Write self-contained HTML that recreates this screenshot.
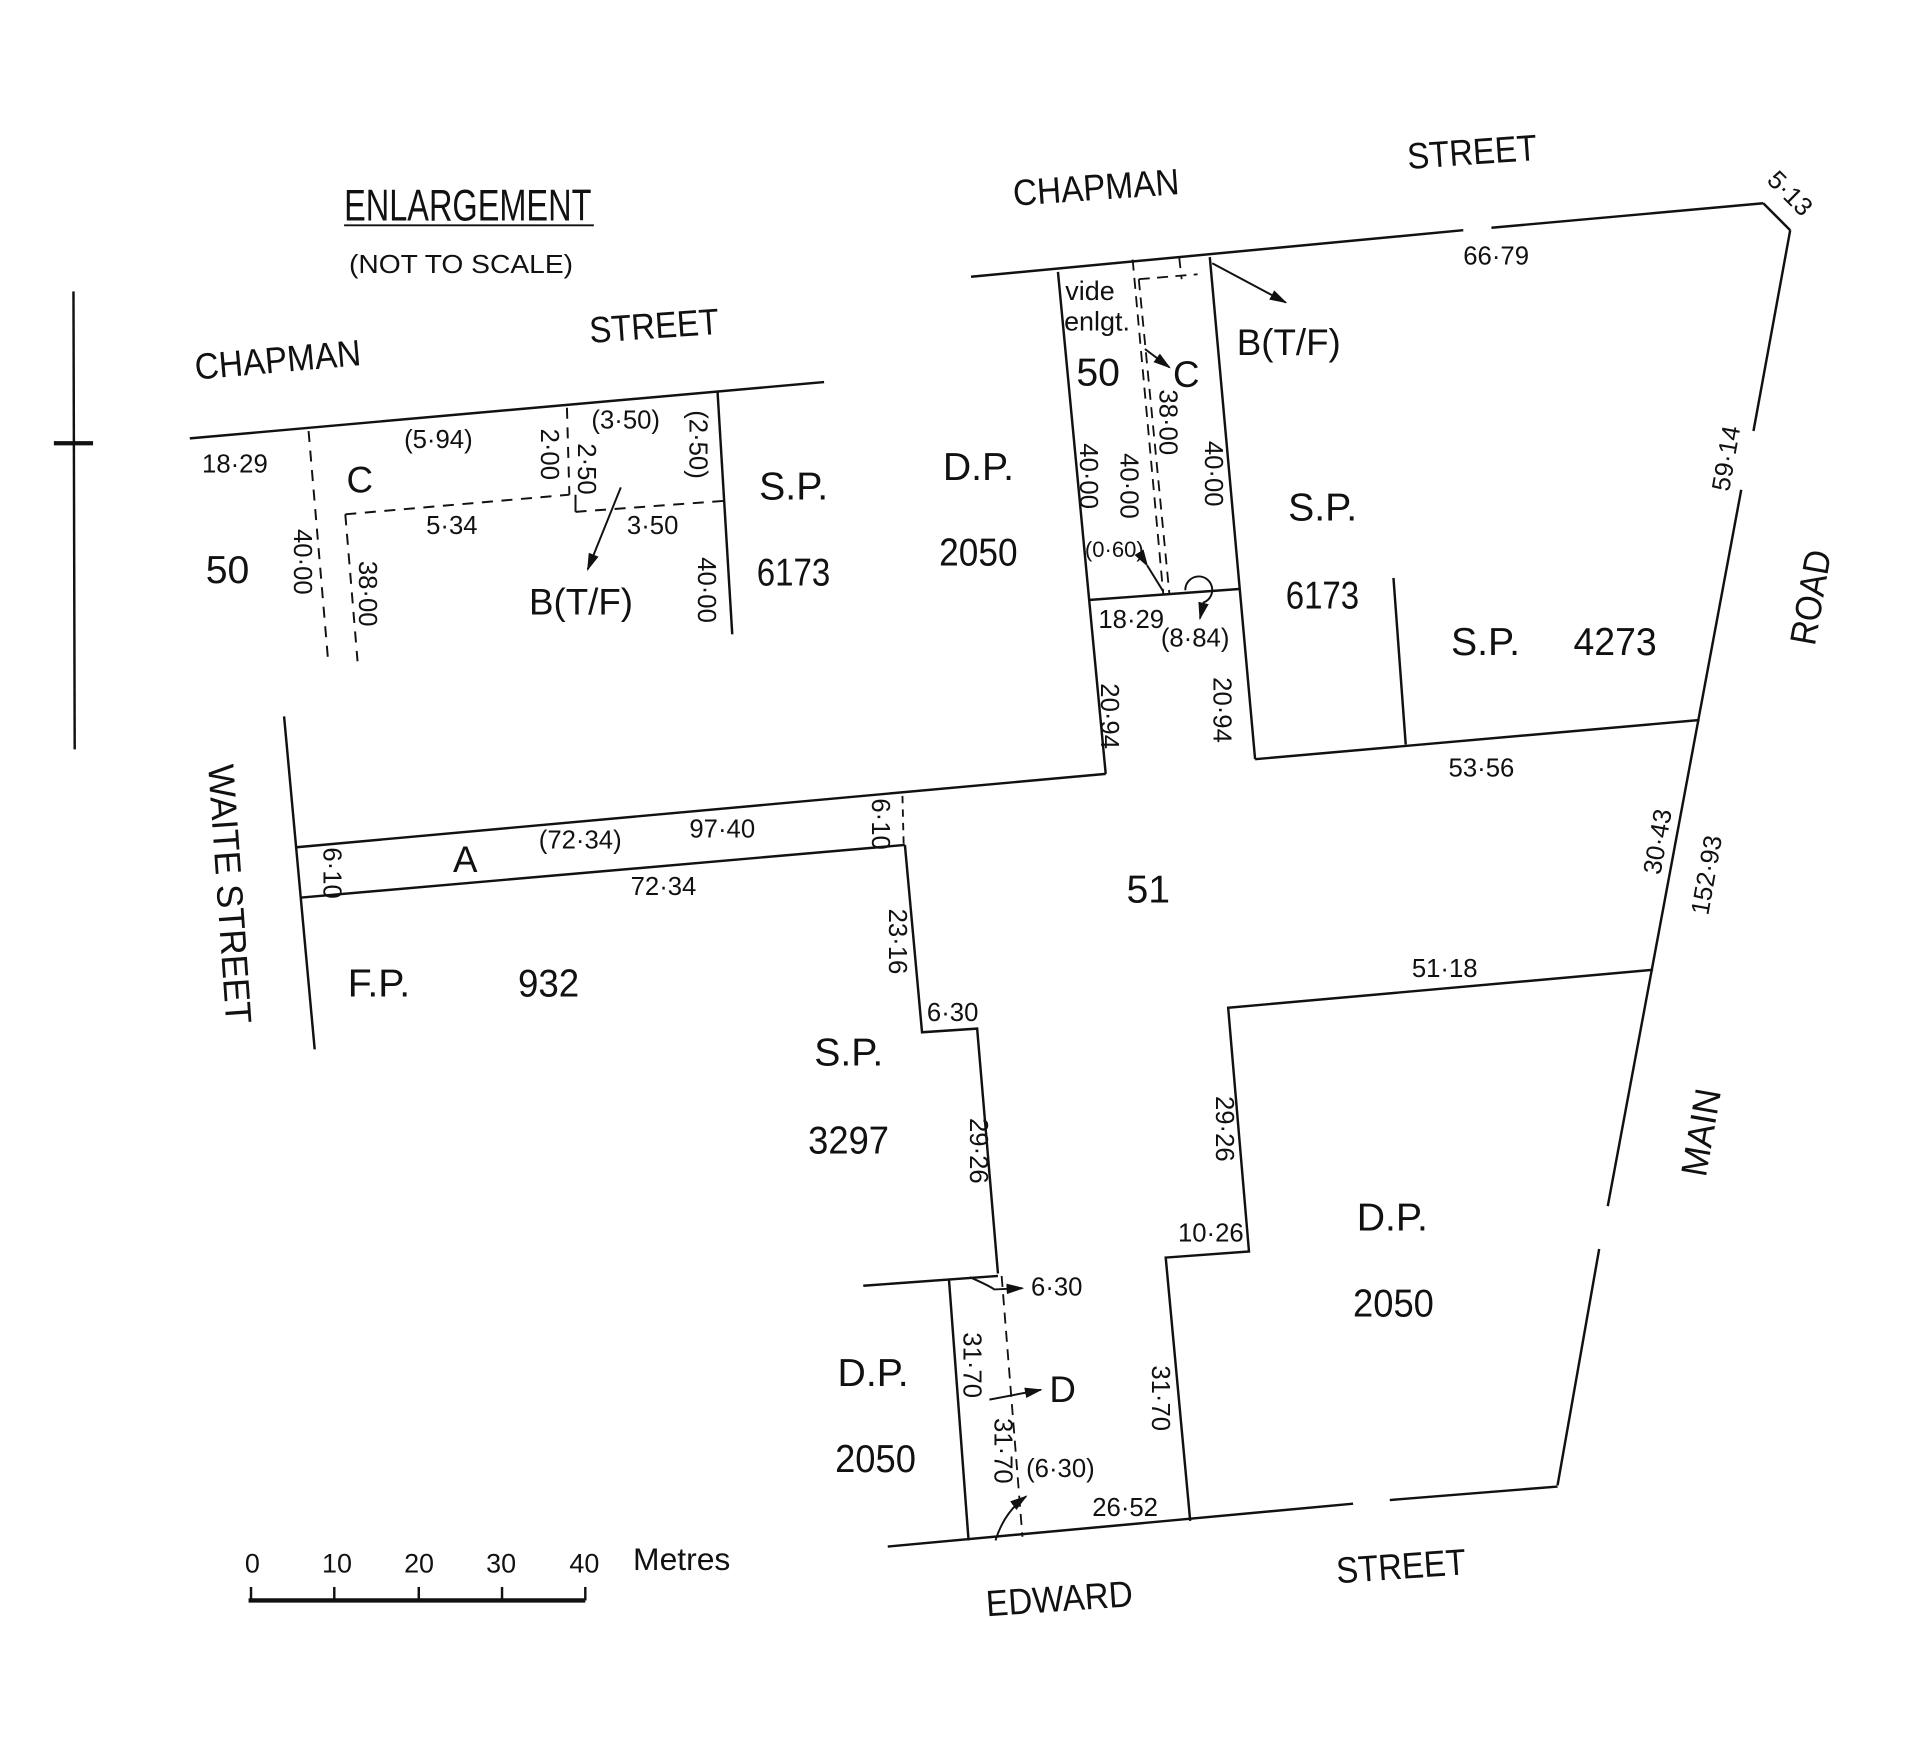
<!DOCTYPE html>
<html><head><meta charset="utf-8"><style>
html,body{margin:0;padding:0;background:#fff;}
svg{display:block;}
text{font-family:"Liberation Sans Narrow","Liberation Sans",sans-serif;fill:#111;}
</style></head><body>
<svg width="1920" height="1748" viewBox="0 0 1568 1427.5" preserveAspectRatio="none" xmlns="http://www.w3.org/2000/svg">
<defs><marker id="ar" viewBox="0 0 10 10" refX="9" refY="5" markerWidth="9" markerHeight="9" orient="auto"><path d="M0,2 L10,5 L0,8 z" fill="#111"/></marker></defs>
<g stroke="#111" stroke-width="2" fill="none">
<line x1="60" y1="238" x2="61" y2="612"/>
<line x1="44" y1="362" x2="76" y2="362" stroke-width="3.5"/>
<line x1="281" y1="184" x2="485" y2="184" stroke-width="1.6"/>
<line x1="155" y1="358" x2="673" y2="312"/>
<line x1="586" y1="320" x2="598" y2="518"/>
<g stroke-dasharray="9,7" stroke-width="1.6">
<line x1="252" y1="352" x2="268" y2="540"/>
<line x1="282" y1="420" x2="292" y2="540"/>
<line x1="282" y1="420" x2="465" y2="404"/>
<line x1="463" y1="333" x2="465" y2="404"/>
<line x1="470" y1="418" x2="592" y2="409"/>
</g>
<line x1="470" y1="404" x2="470" y2="418" stroke-width="1.6"/>
<line x1="507" y1="398" x2="480" y2="465" stroke-width="1.6" marker-end="url(#ar)"/>
<line x1="793" y1="226" x2="1195" y2="188"/>
<line x1="1218" y1="186" x2="1440" y2="166"/>
<line x1="1440" y1="166" x2="1462" y2="188"/>
<line x1="1462" y1="188" x2="1432" y2="352"/>
<line x1="1422" y1="400" x2="1313" y2="985"/>
<line x1="1306" y1="1020" x2="1272" y2="1213"/>
<line x1="725" y1="1263" x2="1105" y2="1228"/>
<line x1="1135" y1="1225" x2="1272" y2="1214"/>
<line x1="864" y1="222" x2="903" y2="632"/>
<line x1="988" y1="210" x2="1025" y2="620"/>
<line x1="889" y1="490" x2="1012" y2="481"/>
<g stroke-dasharray="9,6" stroke-width="1.5">
<line x1="925" y1="212" x2="950" y2="485"/>
<line x1="930" y1="228" x2="955" y2="485"/>
<line x1="930" y1="228" x2="978" y2="224"/>
<line x1="963" y1="210" x2="965" y2="228"/>
</g>
<line x1="990" y1="215" x2="1050" y2="247" stroke-width="1.6" marker-end="url(#ar)"/>
<path d="M935,285 L955,300" stroke-width="1.6" marker-end="url(#ar)"/>
<line x1="937" y1="462" x2="950" y2="483" stroke-width="1.6" marker-start="url(#ar)"/>
<path d="M968,482 A11,11 0 1 1 983,492 L980,505" stroke-width="1.6" marker-end="url(#ar)"/>
<line x1="1025" y1="620" x2="1388" y2="588"/>
<line x1="1138" y1="472" x2="1148" y2="608"/>
<line x1="903" y1="632" x2="241" y2="692"/>
<line x1="246" y1="733" x2="739" y2="690"/>
<line x1="232" y1="585" x2="257" y2="857"/>
<line x1="737" y1="650" x2="738" y2="690" stroke-dasharray="6,5" stroke-width="1.5"/>
<polyline points="739,690 753,843 798,840 815,1040"/>
<line x1="705" y1="1050" x2="815" y2="1042"/>
<line x1="775" y1="1045" x2="791" y2="1258"/>
<line x1="818" y1="1042" x2="835" y2="1255" stroke-dasharray="9,6" stroke-width="1.5"/>
<path d="M792,1043 Q808,1050 812,1053 L835,1052" stroke-width="1.6" marker-end="url(#ar)"/>
<line x1="808" y1="1143" x2="850" y2="1135" stroke-width="1.6" marker-end="url(#ar)"/>
<path d="M813,1258 Q820,1235 838,1222" stroke-width="1.6" marker-end="url(#ar)"/>
<polyline points="1350,792 1003,823 1020,1022 952,1027 972,1242"/>
<line x1="203" y1="1307" x2="478" y2="1307" stroke-width="3.5"/>
<line x1="205" y1="1296" x2="205" y2="1307"/>
<line x1="273" y1="1296" x2="273" y2="1307"/>
<line x1="342" y1="1296" x2="342" y2="1307"/>
<line x1="410" y1="1296" x2="410" y2="1307"/>
<line x1="478" y1="1296" x2="478" y2="1307"/>
</g>
<g font-size="30">
<text x="281" y="180" font-size="36" textLength="202" lengthAdjust="spacingAndGlyphs">ENLARGEMENT</text>
<text x="285" y="223" font-size="21" textLength="183" lengthAdjust="spacingAndGlyphs">(NOT  TO  SCALE)</text>
<text x="160" y="310" transform="rotate(-5 160 310)" textLength="136" lengthAdjust="spacingAndGlyphs">CHAPMAN</text>
<text x="482" y="280" transform="rotate(-4 482 280)" textLength="106" lengthAdjust="spacingAndGlyphs">STREET</text>
<text x="165" y="386" font-size="21">18·29</text>
<text x="283" y="402">C</text>
<text x="330" y="366" font-size="21">(5·94)</text>
<text x="483" y="350" font-size="21">(3·50)</text>
<text x="348" y="436" font-size="21">5·34</text>
<text x="512" y="436" font-size="21">3·50</text>
<text x="432" y="502">B(T/F)</text>
<text x="168" y="476" font-size="32">50</text>
<text x="620" y="408" font-size="32">S.P.</text>
<text x="618" y="478" font-size="32" textLength="60" lengthAdjust="spacingAndGlyphs">6173</text>
<text x="770" y="392" font-size="32">D.P.</text>
<text x="767" y="462" font-size="32" textLength="64" lengthAdjust="spacingAndGlyphs">2050</text>
<g font-size="21">
<text transform="translate(442,350) rotate(90)">2·00</text>
<text transform="translate(472,362) rotate(90)">2·50</text>
<text transform="translate(563,335) rotate(90)">(2·50)</text>
<text transform="translate(240,432) rotate(90)">40·00</text>
<text transform="translate(293,458) rotate(90)">38·00</text>
<text transform="translate(570,455) rotate(90)">40·00</text>
</g>
<text x="828" y="168" transform="rotate(-4 828 168)" textLength="136" lengthAdjust="spacingAndGlyphs">CHAPMAN</text>
<text x="1150" y="138" transform="rotate(-4 1150 138)" textLength="106" lengthAdjust="spacingAndGlyphs">STREET</text>
<text x="1195" y="216" font-size="21">66·79</text>
<text transform="translate(1442,148) rotate(45)" font-size="21">5·13</text>
<text x="870" y="245" font-size="22">vide</text>
<text x="869" y="270" font-size="22">enlgt.</text>
<text x="879" y="315" font-size="32">50</text>
<text x="958" y="316">C</text>
<text x="1010" y="290">B(T/F)</text>
<g font-size="21">
<text transform="translate(947,318) rotate(90)">38·00</text>
<text transform="translate(882,362) rotate(90)">40·00</text>
<text transform="translate(915,370) rotate(90)">40·00</text>
<text transform="translate(984,360) rotate(90)">40·00</text>
<text x="886" y="455" font-size="18">(0·60)</text>
<text x="897" y="513">18·29</text>
<text x="948" y="528">(8·84)</text>
<text transform="translate(899,558) rotate(90)">20·94</text>
<text transform="translate(991,553) rotate(90)">20·94</text>
<text transform="translate(1412,402) rotate(-80)">59·14</text>
<text x="1183" y="634">53·56</text>
<text transform="translate(1356,715) rotate(-80)">30·43</text>
<text transform="translate(1395,748) rotate(-80)">152·93</text>
<text transform="translate(264,692) rotate(90)">6·10</text>
<text transform="translate(712,652) rotate(90)">6·10</text>
<text x="440" y="693">(72·34)</text>
<text x="563" y="684">97·40</text>
<text x="515" y="731">72·34</text>
<text transform="translate(726,742) rotate(90)">23·16</text>
<text x="757" y="834">6·30</text>
<text transform="translate(792,913) rotate(90)">29·26</text>
<text transform="translate(993,895) rotate(90)">29·26</text>
<text x="1153" y="798">51·18</text>
<text x="962" y="1014">10·26</text>
<text x="842" y="1058">6·30</text>
<text transform="translate(787,1088) rotate(90)">31·70</text>
<text transform="translate(812,1158) rotate(90)">31·70</text>
<text x="838" y="1206">(6·30)</text>
<text x="892" y="1238">26·52</text>
<text transform="translate(941,1115) rotate(90)">31·70</text>
</g>
<text x="1052" y="425" font-size="32">S.P.</text>
<text x="1050" y="497" font-size="32" textLength="60" lengthAdjust="spacingAndGlyphs">6173</text>
<text x="1185" y="535" font-size="32">S.P.</text>
<text x="1285" y="535" font-size="32" textLength="68" lengthAdjust="spacingAndGlyphs">4273</text>
<text transform="translate(1482,528) rotate(-80)" textLength="78" lengthAdjust="spacingAndGlyphs">ROAD</text>
<text x="920" y="737" font-size="32">51</text>
<text x="370" y="712" font-size="30">A</text>
<text transform="translate(170,625) rotate(86)" textLength="212" lengthAdjust="spacingAndGlyphs">WAITE STREET</text>
<text x="284" y="814" font-size="32">F.P.</text>
<text x="423" y="814" font-size="32" textLength="50" lengthAdjust="spacingAndGlyphs">932</text>
<text x="665" y="870" font-size="32">S.P.</text>
<text x="660" y="942" font-size="32" textLength="66" lengthAdjust="spacingAndGlyphs">3297</text>
<text x="684" y="1132" font-size="32">D.P.</text>
<text x="682" y="1202" font-size="32" textLength="66" lengthAdjust="spacingAndGlyphs">2050</text>
<text transform="translate(1393,962) rotate(-80)" textLength="72" lengthAdjust="spacingAndGlyphs">MAIN</text>
<text x="1108" y="1005" font-size="32">D.P.</text>
<text x="1105" y="1075" font-size="32" textLength="66" lengthAdjust="spacingAndGlyphs">2050</text>
<text x="857" y="1145" font-size="30">D</text>
<text x="806" y="1320" transform="rotate(-4 806 1320)" textLength="120" lengthAdjust="spacingAndGlyphs">EDWARD</text>
<text x="1092" y="1293" transform="rotate(-4 1092 1293)" textLength="106" lengthAdjust="spacingAndGlyphs">STREET</text>
<g font-size="22">
<text x="200" y="1284">0</text>
<text x="263" y="1284">10</text>
<text x="330" y="1284">20</text>
<text x="397" y="1284">30</text>
<text x="465" y="1284">40</text>
<text x="517" y="1282" font-size="26">Metres</text>
</g>
</g>
</svg>
</body></html>
